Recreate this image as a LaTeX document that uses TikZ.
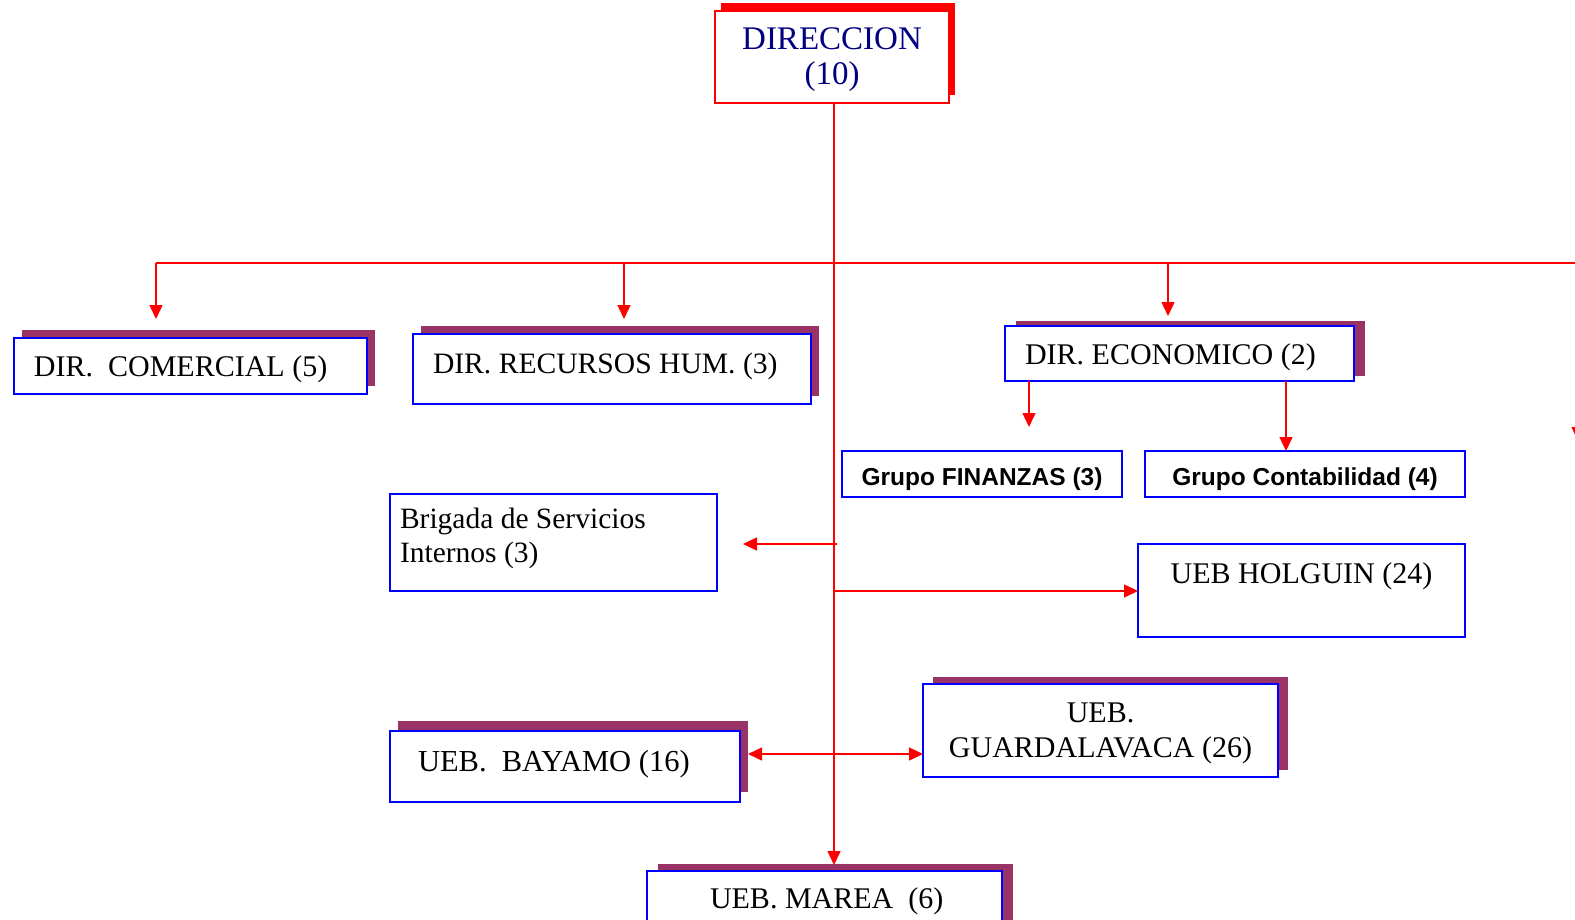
\documentclass[tikz,border=0pt]{standalone}
\usepackage{fontspec}
\setmainfont{Liberation Serif}
\newfontfamily\grpfont{Liberation Sans}
\usetikzlibrary{arrows.meta,backgrounds}
\definecolor{shc}{HTML}{993366}
\definecolor{bxc}{HTML}{0000FF}
\definecolor{navyc}{HTML}{000080}
\begin{document}
\begin{tikzpicture}[x=1pt,y=-1pt,
  box/.style={draw=bxc, line width=2pt, fill=white, inner sep=0pt, outer sep=0pt},
  dirbox/.style={draw=red, line width=1.5pt, fill=white, inner sep=0pt, outer sep=0pt},
  ln/.style={draw=red, line width=1.5pt},
  arr/.style={ln, -{Triangle[length=14pt,width=13pt]}},
  arrb/.style={ln, {Triangle[length=14pt,width=13pt]}-{Triangle[length=14pt,width=13pt]}},
  txt/.style={inner sep=0pt, outer sep=0pt, font=\fontsize{30}{34}\selectfont},
  grp/.style={inner sep=0pt, outer sep=0pt, font=\grpfont\bfseries\fontsize{24.5}{28}\selectfont}
]
\useasboundingbox (0,0) rectangle (1575,920);
\begin{scope}
\clip (0,0) rectangle (1575,920);
% boxes
\node[dirbox, minimum width=234pt, minimum height=92pt] (dir) at (832,57) {};
\node[box, minimum width=353pt, minimum height=56pt] (com) at (190.5,366) {};
\node[box, minimum width=398pt, minimum height=70pt] (rec) at (612,369) {};
\node[box, minimum width=349pt, minimum height=55pt] (eco) at (1179.5,353.5) {};
\node[box, minimum width=280pt, minimum height=46pt] (fin) at (982,474) {};
\node[box, minimum width=320pt, minimum height=46pt] (con) at (1305,474) {};
\node[box, minimum width=327pt, minimum height=97pt] (bri) at (553.5,542.5) {};
\node[box, minimum width=327pt, minimum height=93pt] (hol) at (1301.5,590.5) {};
\node[box, minimum width=355pt, minimum height=93pt] (gua) at (1100.5,730.5) {};
\node[box, minimum width=350pt, minimum height=71pt] (bay) at (565,766.5) {};
\node[box, minimum width=355pt, minimum height=59pt] (mar) at (824.5,900.5) {};
% texts
\node[txt, anchor=base, text=navyc, font=\fontsize{33}{36}\selectfont] (dirt1) at (832,50) {DIRECCION};
\node[txt, anchor=base, text=navyc, font=\fontsize{33}{36}\selectfont] (dirt2) at (832,85) {(10)};
\node[txt, anchor=base west] (comt) at (34,376) {DIR.\ \ COMERCIAL (5)};
\node[txt, anchor=base west, font=\fontsize{29.6}{34}\selectfont] (rect) at (433,373) {DIR. RECURSOS HUM. (3)};
\node[txt, anchor=base west] (ecot) at (1025,364) {DIR. ECONOMICO (2)};
\node[grp, anchor=base] (fint) at (982,485) {Grupo FINANZAS (3)};
\node[grp, anchor=base] (cont) at (1305,485) {Grupo Contabilidad (4)};
\node[txt, anchor=base west, font=\fontsize{29.5}{34}\selectfont] (brit1) at (400,528) {Brigada de Servicios};
\node[txt, anchor=base west, font=\fontsize{29.5}{34}\selectfont] (brit2) at (400,562) {Internos (3)};
\node[txt, anchor=base] (holt) at (1301.5,583) {UEB HOLGUIN (24)};
\node[txt, anchor=base] (guat1) at (1100.5,722) {UEB.};
\node[txt, anchor=base] (guat2) at (1100.5,757) {GUARDALAVACA (26)};
\node[txt, anchor=base west, font=\fontsize{30.5}{34}\selectfont] (bayt) at (418,771) {UEB.\ \ BAYAMO (16)};
\node[txt, anchor=base west] (mart) at (710,908) {UEB. MAREA\ \ (6)};
% coordinates
\coordinate (mtip) at (834,865);
\coordinate (bl) at (156,263);
\coordinate (br) at (1600,263);
\coordinate (ctip) at (156,319);
\coordinate (rtip) at (624,319);
\coordinate (etip) at (1168,316);
\coordinate (xtip) at (1578,441);
\coordinate (ftip) at (1029,427);
\coordinate (ktip) at (1286,451);
\coordinate (bs) at (837,544);
\coordinate (btip) at (743,544);
\coordinate (hs) at (834,591);
\coordinate (bgl) at (748,754);
% connectors
\draw[arr] (dir.south -| mtip) -- (mtip);
\draw[ln] (bl) -- (br);
\draw[arr] (ctip |- bl) -- (ctip);
\draw[arr] (rtip |- bl) -- (rtip);
\draw[arr] (etip |- bl) -- (etip);
\draw[arr] (xtip |- bl) -- (xtip);
\draw[arr] (eco.south -| ftip) -- (ftip);
\draw[arr] (eco.south -| ktip) -- (ktip);
\draw[arr] (bs) -- (btip);
\draw[arr] (hs) -- (hs -| hol.west);
\draw[arrb] (bgl) -- (bgl -| gua.west);
\end{scope}
\begin{scope}[on background layer]
\fill[white] (0,0) rectangle (1575,920);
\fill[red] ([shift={(6,-8)}]dir.south west) rectangle ([shift={(6,-8)}]dir.north east);
\fill[shc] ([shift={(8,-8)}]com.south west) rectangle ([shift={(8,-8)}]com.north east);
\fill[shc] ([shift={(8,-8)}]rec.south west) rectangle ([shift={(8,-8)}]rec.north east);
\fill[shc] ([shift={(11,-5)}]eco.south west) rectangle ([shift={(11,-5)}]eco.north east);
\fill[shc] ([shift={(10,-7)}]gua.south west) rectangle ([shift={(10,-7)}]gua.north east);
\fill[shc] ([shift={(8,-10)}]bay.south west) rectangle ([shift={(8,-10)}]bay.north east);
\fill[shc] ([shift={(11,-7)}]mar.south west) rectangle ([shift={(11,-7)}]mar.north east);
\end{scope}
\end{tikzpicture}
\end{document}
